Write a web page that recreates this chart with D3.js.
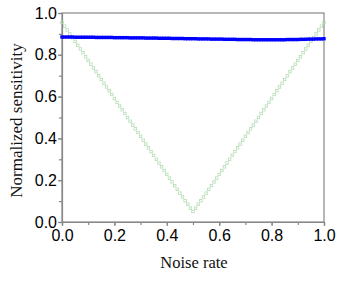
<!DOCTYPE html>
<html lang="en">
<head>
    <meta charset="UTF-8">
    <title>Normalized sensitivity</title>
    <script src="https://d3js.org/d3.v7.min.js"></script>
    <style>
        body { margin: 0; background: white; }
        .tick text { font-family: "Liberation Sans", Arial, sans-serif; font-size: 16px; fill: black; }
        .title { font-family: "Liberation Serif", "Times New Roman", serif; fill: #111; }
    </style>
</head>
<body>
<svg id="chart" width="338" height="281"></svg>
<script>
    // noise rate from 0 to 1, step 0.01
    const noiseRate = d3.range(101).map(i => i / 100);

    // blue series (nearly flat)
    const blueValues = [
        .885, .885, .885, .885, .885, .884, .884, .884, .884, .884, .884,
        .884, .884, .883, .883, .883, .883, .883, .883, .883, .882,
        .882, .882, .882, .882, .882, .881, .881, .881, .881, .881,
        .881, .880, .880, .880, .880, .880, .879, .879, .879, .879,
        .879, .878, .878, .878, .878, .878, .877, .877, .877, .877,
        .877, .876, .876, .876, .876, .876, .875, .875, .875, .875,
        .875, .874, .874, .874, .874, .874, .873, .873, .873, .873,
        .873, .873, .872, .872, .872, .872, .872, .872, .872, .872,
        .872, .872, .872, .872, .872, .873, .873, .873, .873, .873,
        .874, .874, .874, .875, .875, .875, .876, .876, .876, .877
    ];

    // green series (V shape)
    const greenValues = [
        .955, .937, .919, .900, .882, .864, .846, .828, .810, .791,
        .773, .755, .737, .719, .700, .682, .664, .646, .628, .610,
        .591, .573, .555, .537, .519, .500, .482, .464, .446, .428,
        .410, .391, .373, .355, .337, .319, .300, .282, .264, .246,
        .228, .210, .192, .174, .156, .138, .120, .102, .085, .066,
        .050,
        .066, .085, .102, .120, .138, .156, .174, .192, .210, .228,
        .246, .264, .282, .300, .319, .337, .355, .373, .391, .410,
        .428, .446, .464, .482, .500, .519, .537, .555, .573, .591,
        .610, .628, .646, .664, .682, .700, .719, .737, .755, .773,
        .791, .810, .828, .846, .864, .882, .900, .919, .937, .955
    ];

    const xTicks = [0, 0.2, 0.4, 0.6, 0.8, 1.0];
    const yTicks = [0, 0.2, 0.4, 0.6, 0.8, 1.0];
    const minorTicks = d3.range(11).map(i => i / 10);

    const svg = d3.select("#chart");
    const margin = {left: 62, right: 14, top: 13, bottom: 59};
    const width = 338 - margin.left - margin.right,
        height = 281 - margin.top - margin.bottom;

    const g = svg.append("g").attr("transform", `translate(${margin.left},${margin.top})`);

    const x = d3.scaleLinear().domain([0, 1]).range([0, width]);
    const y = d3.scaleLinear().domain([0, 1]).range([height, 0]);

    const axisColor = "#888";

    // frame
    g.append("rect")
        .attr("width", width).attr("height", height)
        .attr("fill", "none").attr("stroke", axisColor).attr("stroke-width", 1.2);

    // minor ticks
    g.append("g").attr("transform", `translate(0,${height})`)
        .call(d3.axisBottom(x).tickValues(minorTicks).tickSize(3).tickFormat(""))
        .call(a => a.select(".domain").remove())
        .selectAll("line").attr("stroke", axisColor).attr("stroke-width", 1.2);
    g.append("g")
        .call(d3.axisLeft(y).tickValues(minorTicks).tickSize(3).tickFormat(""))
        .call(a => a.select(".domain").remove())
        .selectAll("line").attr("stroke", axisColor).attr("stroke-width", 1.2);

    // major axes
    const xAxis = g.append("g").attr("transform", `translate(0,${height})`)
        .call(d3.axisBottom(x).tickValues(xTicks).tickSize(4).tickPadding(4).tickFormat(d3.format(".1f")));
    const yAxis = g.append("g")
        .call(d3.axisLeft(y).tickValues(yTicks).tickSize(4).tickPadding(1).tickFormat(d3.format(".1f")));
    [xAxis, yAxis].forEach(a => {
        a.select(".domain").attr("stroke", axisColor).attr("stroke-width", 1.2);
        a.selectAll("line").attr("stroke", axisColor).attr("stroke-width", 1.2);
    });

    // green hollow squares
    g.append("g").selectAll("rect")
        .data(noiseRate.map((d, i) => [d, greenValues[i]]))
        .join("rect")
        .attr("x", d => x(d[0]) - 1.25)
        .attr("y", d => y(d[1]) - 1.25)
        .attr("width", 2.5).attr("height", 2.5)
        .attr("fill", "none")
        .attr("stroke", "#b3dcb3")
        .attr("stroke-width", 0.8);

    // blue filled squares
    g.append("g").selectAll("rect")
        .data(noiseRate.map((d, i) => [d, blueValues[i]]))
        .join("rect")
        .attr("x", d => x(d[0]) - 1.7)
        .attr("y", d => y(d[1]) - 1.7)
        .attr("width", 3.4).attr("height", 3.4)
        .attr("fill", "#0000ff");

    // titles
    svg.append("text").attr("class", "title")
        .attr("x", margin.left + width / 2 + 1).attr("y", 268)
        .attr("text-anchor", "middle").style("font-size", "16.5px").text("Noise rate");
    svg.append("text").attr("class", "title")
        .attr("transform", `translate(22,${margin.top + height / 2 + 3}) rotate(-90)`)
        .attr("text-anchor", "middle").style("font-size", "17px").text("Normalized sensitivity");
</script>
</body>
</html>
